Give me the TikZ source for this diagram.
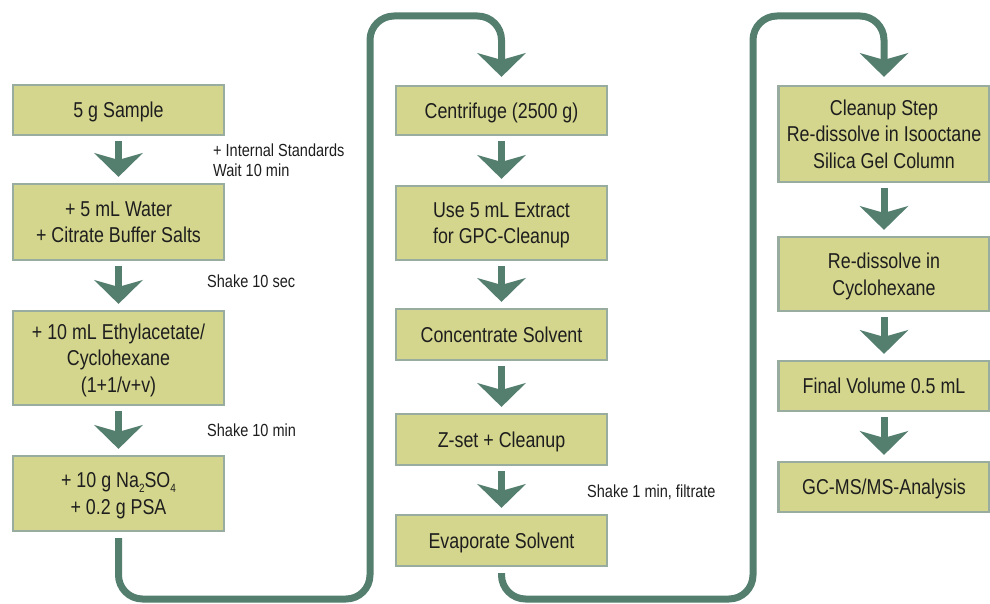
\documentclass[tikz,border=0pt]{standalone}
\usepackage{fontspec}
\setmainfont{Liberation Sans}[FakeStretch=0.83]
\usetikzlibrary{arrows.meta,calc}
\definecolor{boxfill}{RGB}{212,214,141}
\definecolor{boxline}{RGB}{152,172,160}
\definecolor{flowc}{RGB}{84,127,110}
\definecolor{txt}{RGB}{30,30,30}
\newcommand\mysub[1]{\raisebox{-0.4ex}{\fontsize{12}{12}\selectfont #1}}
\begin{document}
\begin{tikzpicture}[x=1pt,y=-1pt,
  stepbox/.style={draw=boxline, line width=2.2pt, fill=boxfill, minimum width=211pt,
    align=center, inner sep=0pt, text depth=0pt, font=\fontsize{21.5}{26.5}\selectfont, text=txt},
  note/.style={align=left, inner sep=0pt, font=\fontsize{17.5}{20}\selectfont, text=txt},
  flow/.style={draw=flowc, line width=7pt, line cap=butt,
    -{Stealth[length=24pt,width=49pt,inset=7pt,line width=0pt]}},
  stepflow/.style={flow, shorten <=5pt, shorten >=6pt},
  loopflow/.style={flow, rounded corners=24pt, shorten <=6pt, shorten >=8pt}]
\useasboundingbox (0,0) rectangle (990,604);

% column 1
\node[stepbox, minimum height=50pt] (a1) at (118.5,110) {5 g Sample};
\node[stepbox, minimum height=76pt] (a2) at (118.5,222) {+ 5 mL Water\\+ Citrate Buffer Salts};
\node[stepbox, minimum height=94pt] (a3) at (118.5,358) {+ 10 mL Ethylacetate/\\Cyclohexane\\(1+1/v+v)};
\node[stepbox, minimum height=75pt] (a4) at (118.5,493.5) {+ 10 g Na\mysub{2}SO\mysub{4}\\+ 0.2 g PSA};

% column 2
\node[stepbox, minimum height=49pt] (b1) at (501.5,110.5) {Centrifuge (2500 g)};
\node[stepbox, minimum height=74pt] (b2) at (501.5,223) {Use 5 mL Extract\\for GPC-Cleanup};
\node[stepbox, minimum height=51pt] (b3) at (501.5,334.5) {Concentrate Solvent};
\node[stepbox, minimum height=51pt] (b4) at (501.5,439.5) {Z-set + Cleanup};
\node[stepbox, minimum height=51pt] (b5) at (501.5,540.5) {Evaporate Solvent};

% column 3
\node[stepbox, minimum height=96pt] (c1) at (884,134) {Cleanup Step\\Re-dissolve in Isooctane\\Silica Gel Column};
\node[stepbox, minimum height=74pt] (c2) at (884,274) {Re-dissolve in\\Cyclohexane};
\node[stepbox, minimum height=50pt] (c3) at (884,386) {Final Volume 0.5 mL};
\node[stepbox, minimum height=50pt] (c4) at (884,487) {GC-MS/MS-Analysis};

% notes
\node[note, anchor=west] (n1) at (213,160) {+ Internal Standards\\Wait 10 min};
\node[note, anchor=base west] (n2) at (207,287) {Shake 10 sec};
\node[note, anchor=base west] (n3) at (207,436) {Shake 10 min};
\node[note, anchor=base west] (n4) at (587,497) {Shake 1 min, filtrate};

% step arrows
\draw[stepflow] (a1.south) -- (a2.north);
\draw[stepflow] (a2.south) -- (a3.north);
\draw[stepflow] (a3.south) -- (a4.north);
\draw[stepflow] (b1.south) -- (b2.north);
\draw[stepflow] (b2.south) -- (b3.north);
\draw[stepflow] (b3.south) -- (b4.north);
\draw[stepflow] (b4.south) -- (b5.north);
\draw[stepflow] (c1.south) -- (c2.north);
\draw[stepflow] (c2.south) -- (c3.north);
\draw[stepflow] (c3.south) -- (c4.north);

% column connectors
\draw[loopflow] (a4.south) -- (a4.south |- 0,599) -- (370,599) -- (370,16)
  -- (b1.north |- 0,16) -- (b1.north);
\draw[loopflow] (b5.south) -- (b5.south |- 0,599) -- (753,599) -- (753,16)
  -- (c1.north |- 0,16) -- (c1.north);
\end{tikzpicture}
\end{document}
